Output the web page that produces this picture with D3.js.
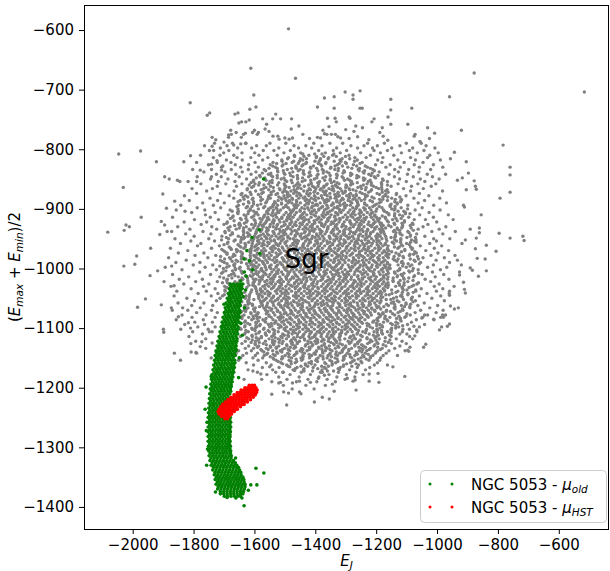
<!DOCTYPE html>
<html><head><meta charset="utf-8">
<script src="https://cdn.jsdelivr.net/npm/d3@7"></script>
<style>body{margin:0;background:#fff}svg{display:block}text{font-family:"DejaVu Sans",sans-serif}</style>
</head><body><svg id="c" width="610" height="571"></svg>
<script>
const xTicks=[-2000,-1800,-1600,-1400,-1200,-1000,-800,-600];
const yTicks=[-600,-700,-800,-900,-1000,-1100,-1200,-1300,-1400];
const seriesNames=["NGC 5053 - ","NGC 5053 - "];
const seriesSubs=["old","HST"];
const sgrLabel={text:"Sgr",x:-1500,y:-1000};
// Sgr: isolated outer stars [E_J, (Emax+Emin)/2]
const sgrHalo=[[-1488,-598],[-1612,-664],[-878,-672],[-1465,-681],[-1253,-702],[-1302,-704],[-516,-704],[-1602,-709],[-1276,-709],[-1338,-712],[-959,-712],[-1370,-714],[-1276,-716],[-1152,-716],[-1811,-722],[-1595,-729],[-1393,-729],[-1338,-731],[-1253,-731],[-1246,-731],[-1083,-731],[-1615,-733],[-1152,-734],[-1747,-739],[-1654,-739],[-1664,-741],[-1530,-741],[-1755,-743],[-1289,-746],[-1161,-746],[-1360,-748],[-1335,-748],[-1286,-748],[-1573,-749],[-1540,-749],[-1514,-749],[-1478,-749],[-1207,-749],[-1617,-751],[-1642,-754],[-1628,-754],[-1331,-754],[-1214,-754],[-1651,-756],[-1560,-758],[-1152,-758],[-1096,-758],[-1454,-761],[-1267,-761],[-1355,-762],[-1245,-764],[-1180,-764],[-1031,-764],[-1565,-766],[-1479,-766],[-1300,-767],[-1678,-768],[-1600,-768],[-1375,-768],[-920,-768],[-1552,-770],[-1273,-770],[-1660,-772],[-1606,-772],[-1587,-772],[-1188,-772],[-1630,-773],[-1008,-773],[-1370,-774],[-1676,-775],[-1636,-775],[-1591,-775],[-1441,-775],[-1362,-775],[-1347,-775],[-1334,-775],[-1072,-775],[-1685,-776],[-1539,-778],[-1523,-778],[-1177,-778],[-1075,-778],[-1326,-779],[-1261,-779],[-1739,-780],[-1685,-780],[-1643,-780],[-1393,-780],[-1500,-781],[-1475,-781],[-1383,-781],[-1317,-781],[-1419,-782],[-1289,-782],[-1025,-782],[-1519,-783],[-1486,-783],[-1727,-784],[-1224,-784],[-1162,-785],[-1056,-787],[-1700,-788],[-1629,-790],[-1645,-791],[-1668,-793],[-783,-793],[-1739,-795],[-1734,-802],[-1974,-803],[-943,-805],[-2046,-808],[-1810,-811],[-956,-816],[-1723,-819],[-1922,-821],[-1832,-821],[-904,-821],[-1741,-825],[-1704,-828],[-760,-830],[-1778,-835],[-1708,-835],[-897,-840],[-760,-843],[-1895,-846],[-1741,-846],[-917,-848],[-1880,-850],[-1853,-852],[-933,-852],[-878,-853],[-1845,-854],[-1790,-854],[-874,-862],[-2031,-864],[-871,-867],[-904,-868],[-760,-872],[-793,-882],[-1901,-875],[-1862,-887],[-913,-894],[-910,-897],[-1889,-899],[-1828,-904],[-855,-910],[-1972,-914],[-1906,-921],[-2022,-927],[-1895,-927],[-2011,-930],[-861,-932],[-891,-934],[-2028,-936],[-1872,-938],[-2082,-939],[-861,-940],[-796,-941],[-1911,-943],[-718,-946],[-871,-949],[-760,-949],[-907,-952],[-714,-953],[-838,-961],[-1941,-966],[-874,-967],[-806,-971],[-1987,-979],[-868,-983],[-842,-984],[-933,-986],[-1993,-993],[-920,-994],[-1872,-996],[-2029,-996],[-891,-999],[-884,-1003],[-1918,-1004],[-838,-1004],[-926,-1011],[-1943,-1012],[-864,-1013],[-1897,-1022],[-913,-1023],[-1864,-1029],[-910,-1035],[-959,-1038],[-907,-1041],[-959,-1045],[-1958,-1051],[-1906,-1061],[-956,-1063],[-1984,-1065],[-1836,-1066],[-930,-1066],[-943,-1068],[-1870,-1070],[-1041,-1078],[-982,-1078],[-972,-1078],[-1850,-1081],[-988,-1082],[-979,-1082],[-1050,-1083],[-1011,-1085],[-1817,-1091],[-959,-1093],[-1076,-1097],[-966,-1097],[-985,-1098],[-1810,-1100],[-1899,-1102],[-1112,-1102],[-1067,-1103],[-992,-1103],[-1748,-1106],[-1898,-1107],[-1099,-1110],[-1073,-1113],[-1080,-1118],[-1773,-1123],[-1739,-1125],[-1037,-1127],[-1778,-1131],[-1089,-1132],[-1044,-1132],[-1096,-1137],[-1093,-1139],[-1808,-1140],[-1792,-1141],[-1863,-1142],[-1843,-1154],[-1550,-1165],[-1484,-1165],[-1145,-1165],[-1468,-1171],[-1605,-1172],[-1530,-1174],[-1507,-1174],[-1377,-1174],[-1194,-1176],[-1579,-1177],[-1223,-1177],[-1370,-1179],[-1106,-1181],[-1390,-1184],[-1295,-1184],[-1634,-1186],[-1269,-1187],[-1452,-1189],[-1276,-1189],[-1223,-1189],[-1514,-1191],[-1416,-1191],[-1191,-1191],[-1520,-1192],[-1475,-1192],[-1344,-1194],[-1266,-1204],[-1338,-1206],[-1504,-1207],[-1452,-1207],[-1488,-1209],[-1543,-1211],[-1377,-1216],[-1354,-1219],[-1403,-1224],[-1494,-1229]];
// Sgr: main body, rows of [(Emax+Emin)/2, [E_J ...]]
const sgrBody=[
[-790,[-1731,-1672,-1628,-1549,-1497,-1405,-1352,-1310,-1228,-1173,-1101,-1052]],
[-794,[-1764,-1690,-1593,-1561,-1470,-1431,-1378,-1283,-1240,-1196,-1122,-1036]],
[-798,[-1712,-1655,-1609,-1520,-1455,-1412,-1330,-1261,-1212,-1149,-1080,-1007]],
[-802,[-1748,-1684,-1571,-1536,-1482,-1389,-1341,-1297,-1207,-1163,-1091,-1043]],
[-806,[-1701,-1641,-1599,-1503,-1448,-1367,-1318,-1251,-1186,-1117,-1065,-996]],
[-810,[-1777,-1713,-1668,-1585,-1525,-1469,-1421,-1343,-1289,-1219,-1142,-1024]],
[-814,[-1735,-1657,-1612,-1556,-1488,-1397,-1356,-1270,-1233,-1178,-1087,-1031]],
[-818,[-1692,-1640,-1573,-1510,-1441,-1384,-1319,-1262,-1195,-1129,-1071,-989]],
[-822,[-1790,-1722,-1677,-1598,-1539,-1476,-1429,-1365,-1301,-1246,-1181,-1108,-1046]],
[-826,[-1751,-1663,-1619,-1548,-1506,-1440,-1382,-1327,-1275,-1202,-1154,-1075,-1012]],
[-830,[-1708,-1645,-1587,-1531,-1463,-1416,-1349,-1293,-1229,-1168,-1121,-1058,-981]],
[-834,[-1803,-1741,-1676,-1620,-1568,-1492,-1450,-1377,-1336,-1259,-1211,-1139,-1093,-1021]],
[-838,[-1766,-1697,-1640,-1595,-1523,-1474,-1418,-1362,-1304,-1243,-1190,-1127,-1060]],
[-842,[-1725,-1661,-1611,-1554,-1500,-1437,-1391,-1330,-1280,-1224,-1158,-1097,-1032,-972]],
[-846,[-1788,-1709,-1650,-1581,-1540,-1473,-1422,-1366,-1312,-1257,-1206,-1140,-1078,-1015]],
[-850,[-1744,-1687,-1626,-1566,-1512,-1458,-1403,-1351,-1294,-1237,-1179,-1123,-1055,-993]],
[-854,[-1818,-1719,-1664,-1603,-1549,-1494,-1443,-1386,-1338,-1281,-1226,-1163,-1101,-1040]],
[-858,[-1776,-1694,-1641,-1598,-1553,-1502,-1458,-1413,-1389,-1361,-1322,-1277,-1230,-1182,-1128,-1063,-1004]],
[-862,[-1722,-1659,-1603,-1547,-1497,-1470,-1436,-1409,-1391,-1372,-1344,-1331,-1297,-1251,-1209,-1151,-1084,-1019]],
[-866,[-1805,-1738,-1623,-1570,-1518,-1459,-1447,-1420,-1398,-1381,-1355,-1341,-1318,-1289,-1248,-1192,-1110,-1045]],
[-870,[-1757,-1667,-1596,-1537,-1499,-1480,-1466,-1438,-1426,-1401,-1375,-1364,-1339,-1313,-1301,-1266,-1218,-1169,-1087,-982]],
[-874,[-1790,-1712,-1641,-1576,-1524,-1490,-1471,-1453,-1428,-1417,-1392,-1367,-1352,-1326,-1309,-1284,-1246,-1197,-1133,-1058]],
[-878,[-1830,-1683,-1629,-1552,-1503,-1483,-1461,-1447,-1421,-1403,-1380,-1361,-1333,-1321,-1297,-1276,-1265,-1229,-1172,-1102,-1027]],
[-882,[-1746,-1668,-1605,-1548,-1512,-1500,-1476,-1454,-1439,-1413,-1390,-1377,-1350,-1335,-1311,-1289,-1271,-1256,-1207,-1149,-1076,-991]],
[-886,[-1814,-1721,-1647,-1579,-1522,-1496,-1485,-1462,-1433,-1420,-1399,-1371,-1356,-1329,-1316,-1292,-1265,-1249,-1220,-1163,-1118,-1041]],
[-890,[-1770,-1699,-1618,-1563,-1531,-1511,-1490,-1477,-1449,-1428,-1409,-1384,-1369,-1342,-1321,-1304,-1280,-1261,-1238,-1190,-1131,-1062,-969]],
[-894,[-1842,-1735,-1652,-1590,-1539,-1524,-1497,-1470,-1457,-1434,-1401,-1393,-1362,-1347,-1318,-1297,-1285,-1259,-1231,-1205,-1154,-1096,-1011]],
[-898,[-1788,-1711,-1627,-1570,-1547,-1529,-1505,-1489,-1462,-1444,-1425,-1412,-1381,-1358,-1338,-1329,-1302,-1277,-1264,-1241,-1222,-1181,-1118,-1049]],
[-902,[-1857,-1763,-1680,-1612,-1553,-1538,-1514,-1483,-1472,-1450,-1421,-1403,-1389,-1370,-1344,-1319,-1308,-1286,-1254,-1237,-1217,-1176,-1141,-1072,-990]],
[-906,[-1806,-1729,-1655,-1593,-1559,-1540,-1520,-1496,-1479,-1462,-1436,-1415,-1397,-1373,-1360,-1333,-1315,-1292,-1275,-1249,-1229,-1212,-1165,-1104,-1026]],
[-910,[-1761,-1686,-1634,-1588,-1566,-1545,-1531,-1503,-1488,-1468,-1444,-1428,-1405,-1378,-1366,-1348,-1326,-1301,-1283,-1269,-1241,-1220,-1204,-1158,-1123,-1057,-963]],
[-914,[-1869,-1745,-1672,-1609,-1570,-1556,-1527,-1510,-1491,-1473,-1450,-1437,-1414,-1388,-1372,-1353,-1336,-1309,-1294,-1277,-1253,-1232,-1216,-1199,-1170,-1093,-1012]],
[-918,[-1797,-1718,-1643,-1601,-1575,-1552,-1537,-1519,-1494,-1480,-1457,-1431,-1422,-1395,-1380,-1359,-1331,-1318,-1297,-1270,-1258,-1236,-1209,-1195,-1146,-1075,-1038,-947]],
[-922,[-1831,-1757,-1689,-1626,-1579,-1562,-1541,-1516,-1503,-1477,-1464,-1440,-1420,-1402,-1387,-1364,-1346,-1322,-1305,-1287,-1264,-1241,-1224,-1203,-1190,-1160,-1107,-1001]],
[-926,[-1775,-1700,-1651,-1609,-1583,-1569,-1548,-1524,-1499,-1483,-1468,-1443,-1427,-1410,-1379,-1368,-1349,-1329,-1310,-1282,-1270,-1249,-1227,-1211,-1186,-1139,-1079,-1030]],
[-930,[-1852,-1740,-1680,-1627,-1588,-1571,-1550,-1538,-1511,-1490,-1474,-1451,-1434,-1417,-1393,-1372,-1358,-1335,-1313,-1299,-1275,-1255,-1240,-1215,-1198,-1182,-1151,-1114,-1046,-971]],
[-934,[-1812,-1724,-1660,-1617,-1591,-1576,-1556,-1530,-1518,-1495,-1481,-1455,-1440,-1424,-1401,-1386,-1360,-1341,-1327,-1302,-1290,-1261,-1247,-1228,-1204,-1189,-1179,-1130,-1062,-993]],
[-938,[-1887,-1769,-1697,-1636,-1594,-1580,-1561,-1539,-1515,-1501,-1476,-1462,-1433,-1418,-1405,-1378,-1363,-1345,-1320,-1306,-1284,-1266,-1243,-1231,-1210,-1185,-1176,-1143,-1096,-1017,-940]],
[-942,[-1826,-1743,-1672,-1619,-1597,-1571,-1557,-1535,-1520,-1497,-1480,-1457,-1446,-1420,-1396,-1382,-1368,-1339,-1326,-1309,-1288,-1270,-1252,-1233,-1219,-1196,-1173,-1121,-1067,-981]],
[-946,[-1798,-1707,-1653,-1621,-1600,-1586,-1566,-1543,-1529,-1511,-1490,-1466,-1449,-1431,-1409,-1390,-1376,-1354,-1333,-1316,-1297,-1278,-1257,-1244,-1222,-1201,-1187,-1169,-1137,-1088,-1040]],
[-950,[-1861,-1750,-1685,-1636,-1602,-1577,-1560,-1549,-1522,-1505,-1483,-1472,-1444,-1427,-1412,-1385,-1371,-1351,-1330,-1317,-1292,-1273,-1260,-1236,-1215,-1198,-1181,-1167,-1119,-1011,-958]],
[-954,[-1809,-1731,-1667,-1605,-1590,-1569,-1545,-1534,-1512,-1493,-1468,-1455,-1432,-1418,-1399,-1374,-1362,-1337,-1322,-1303,-1281,-1265,-1248,-1226,-1208,-1190,-1165,-1133,-1074,-1002]],
[-958,[-1843,-1776,-1689,-1631,-1607,-1585,-1573,-1552,-1529,-1516,-1499,-1474,-1459,-1438,-1421,-1393,-1381,-1360,-1343,-1318,-1306,-1287,-1261,-1244,-1231,-1213,-1185,-1170,-1142,-1100,-1024,-918]],
[-962,[-1787,-1715,-1650,-1609,-1596,-1576,-1558,-1537,-1521,-1494,-1481,-1463,-1441,-1425,-1404,-1386,-1369,-1350,-1327,-1311,-1293,-1272,-1253,-1238,-1217,-1193,-1178,-1161,-1113,-1055,-985]],
[-966,[-1876,-1741,-1678,-1635,-1610,-1588,-1569,-1547,-1532,-1507,-1489,-1472,-1450,-1435,-1413,-1391,-1377,-1355,-1336,-1320,-1298,-1282,-1258,-1241,-1225,-1204,-1186,-1163,-1129,-1081,-1009]],
[-970,[-1819,-1702,-1655,-1611,-1598,-1577,-1563,-1540,-1518,-1502,-1479,-1462,-1443,-1427,-1400,-1386,-1362,-1348,-1326,-1303,-1289,-1268,-1247,-1229,-1212,-1191,-1174,-1159,-1106,-1037,-962]],
[-974,[-1850,-1766,-1690,-1640,-1612,-1590,-1571,-1551,-1529,-1513,-1490,-1468,-1455,-1433,-1411,-1396,-1373,-1355,-1334,-1314,-1296,-1277,-1255,-1235,-1219,-1198,-1180,-1165,-1135,-1068,-997]],
[-978,[-1795,-1727,-1664,-1614,-1602,-1580,-1559,-1545,-1524,-1497,-1484,-1461,-1440,-1422,-1406,-1381,-1367,-1345,-1321,-1309,-1286,-1264,-1250,-1227,-1207,-1189,-1168,-1124,-1091,-1020,-941]],
[-982,[-1882,-1753,-1682,-1637,-1613,-1593,-1568,-1553,-1534,-1509,-1491,-1475,-1452,-1431,-1416,-1390,-1374,-1358,-1332,-1315,-1299,-1275,-1257,-1239,-1218,-1195,-1177,-1160,-1110,-1046,-976]],
[-986,[-1824,-1712,-1660,-1615,-1601,-1583,-1562,-1540,-1527,-1503,-1487,-1464,-1446,-1424,-1409,-1383,-1370,-1349,-1324,-1306,-1290,-1268,-1245,-1232,-1210,-1192,-1171,-1139,-1075,-1003]],
[-990,[-1858,-1779,-1699,-1643,-1616,-1594,-1572,-1557,-1533,-1516,-1494,-1478,-1456,-1437,-1419,-1397,-1378,-1359,-1340,-1319,-1302,-1279,-1261,-1241,-1223,-1201,-1183,-1163,-1117,-1054,-959]],
[-994,[-1801,-1737,-1668,-1611,-1603,-1585,-1566,-1545,-1524,-1508,-1485,-1470,-1447,-1428,-1410,-1389,-1368,-1352,-1330,-1310,-1292,-1270,-1252,-1234,-1213,-1188,-1174,-1155,-1128,-1083,-1012]],
[-998,[-1893,-1762,-1691,-1647,-1605,-1591,-1564,-1550,-1529,-1503,-1492,-1467,-1449,-1434,-1405,-1393,-1371,-1347,-1336,-1314,-1288,-1277,-1255,-1230,-1216,-1196,-1170,-1158,-1101,-1031,-968]],
[-1002,[-1838,-1725,-1662,-1613,-1597,-1578,-1561,-1536,-1521,-1499,-1478,-1461,-1440,-1417,-1400,-1384,-1361,-1340,-1325,-1302,-1283,-1265,-1242,-1224,-1205,-1183,-1164,-1123,-1062,-989]],
[-1006,[-1780,-1703,-1641,-1609,-1585,-1570,-1543,-1527,-1511,-1484,-1470,-1452,-1426,-1409,-1390,-1372,-1350,-1329,-1311,-1294,-1270,-1252,-1234,-1211,-1191,-1177,-1140,-1090,-1015,-926]],
[-1010,[-1869,-1744,-1676,-1603,-1590,-1562,-1549,-1531,-1506,-1489,-1466,-1445,-1431,-1408,-1386,-1368,-1344,-1333,-1306,-1290,-1272,-1246,-1228,-1208,-1187,-1167,-1118,-1049,-978]],
[-1014,[-1816,-1714,-1653,-1608,-1584,-1573,-1554,-1533,-1517,-1497,-1475,-1458,-1437,-1419,-1397,-1379,-1358,-1339,-1318,-1297,-1281,-1261,-1238,-1217,-1199,-1176,-1161,-1131,-1077,-1006]],
[-1018,[-1847,-1771,-1689,-1638,-1603,-1595,-1575,-1547,-1538,-1512,-1494,-1481,-1453,-1440,-1414,-1401,-1377,-1353,-1341,-1322,-1300,-1283,-1257,-1245,-1221,-1203,-1183,-1163,-1108,-1039,-961]],
[-1022,[-1793,-1722,-1664,-1600,-1582,-1566,-1540,-1523,-1505,-1487,-1462,-1446,-1430,-1406,-1392,-1366,-1348,-1331,-1308,-1293,-1268,-1252,-1233,-1211,-1192,-1175,-1144,-1096,-1021]],
[-1026,[-1832,-1750,-1679,-1604,-1585,-1559,-1544,-1531,-1511,-1490,-1469,-1455,-1434,-1412,-1395,-1374,-1357,-1336,-1317,-1299,-1276,-1260,-1240,-1219,-1203,-1180,-1168,-1124,-1066,-993]],
[-1030,[-1874,-1767,-1698,-1598,-1572,-1553,-1536,-1518,-1497,-1476,-1460,-1439,-1421,-1403,-1380,-1362,-1345,-1326,-1303,-1285,-1264,-1248,-1226,-1207,-1189,-1170,-1136,-1083,-1009,-944]],
[-1034,[-1808,-1729,-1683,-1595,-1580,-1565,-1544,-1522,-1507,-1486,-1466,-1449,-1427,-1409,-1390,-1371,-1351,-1330,-1314,-1292,-1272,-1255,-1233,-1213,-1196,-1177,-1113,-1052,-981]],
[-1038,[-1855,-1758,-1696,-1593,-1574,-1557,-1531,-1514,-1495,-1478,-1455,-1436,-1416,-1399,-1377,-1361,-1339,-1320,-1302,-1281,-1262,-1241,-1222,-1201,-1186,-1173,-1129,-1070,-1002]],
[-1042,[-1785,-1720,-1643,-1591,-1566,-1548,-1526,-1509,-1489,-1464,-1446,-1428,-1407,-1386,-1369,-1347,-1328,-1308,-1290,-1268,-1250,-1230,-1210,-1192,-1182,-1148,-1095,-1033,-960]],
[-1046,[-1864,-1742,-1705,-1627,-1587,-1575,-1552,-1537,-1515,-1498,-1472,-1455,-1438,-1414,-1395,-1378,-1357,-1337,-1316,-1297,-1278,-1258,-1236,-1218,-1199,-1184,-1120,-1058,-988]],
[-1050,[-1822,-1713,-1630,-1586,-1561,-1543,-1522,-1504,-1486,-1462,-1446,-1420,-1403,-1383,-1363,-1346,-1322,-1303,-1286,-1265,-1244,-1226,-1206,-1185,-1143,-1084,-1017]],
[-1054,[-1797,-1725,-1621,-1581,-1570,-1548,-1532,-1511,-1493,-1472,-1453,-1434,-1411,-1393,-1374,-1353,-1334,-1313,-1294,-1275,-1253,-1236,-1214,-1197,-1184,-1131,-1071,-976]],
[-1058,[-1851,-1766,-1616,-1578,-1557,-1539,-1519,-1497,-1480,-1460,-1441,-1421,-1400,-1382,-1362,-1341,-1325,-1303,-1284,-1262,-1245,-1222,-1205,-1188,-1150,-1102,-1042]],
[-1062,[-1806,-1737,-1631,-1606,-1574,-1559,-1537,-1514,-1501,-1476,-1457,-1443,-1418,-1402,-1379,-1359,-1343,-1320,-1300,-1283,-1260,-1241,-1224,-1200,-1160,-1117,-1063,-998]],
[-1066,[-1873,-1778,-1621,-1597,-1569,-1551,-1530,-1509,-1487,-1470,-1448,-1427,-1410,-1388,-1368,-1351,-1329,-1312,-1290,-1271,-1253,-1232,-1215,-1197,-1141,-1089,-1024]],
[-1070,[-1819,-1741,-1633,-1600,-1563,-1545,-1524,-1503,-1481,-1465,-1440,-1422,-1404,-1384,-1363,-1344,-1323,-1305,-1284,-1266,-1246,-1226,-1205,-1166,-1112,-1054,-980]],
[-1074,[-1790,-1722,-1612,-1588,-1559,-1538,-1516,-1497,-1477,-1457,-1437,-1418,-1399,-1379,-1358,-1338,-1318,-1297,-1280,-1258,-1240,-1219,-1178,-1128,-1072,-1003]],
[-1078,[-1838,-1759,-1634,-1595,-1552,-1533,-1512,-1491,-1471,-1449,-1431,-1410,-1392,-1372,-1350,-1331,-1313,-1291,-1272,-1253,-1232,-1216,-1185,-1139,-1088,-1031]],
[-1082,[-1805,-1729,-1619,-1583,-1545,-1522,-1506,-1483,-1464,-1443,-1424,-1404,-1385,-1364,-1344,-1325,-1305,-1286,-1265,-1247,-1226,-1191,-1155,-1106,-1047]],
[-1086,[-1857,-1768,-1609,-1572,-1539,-1517,-1495,-1477,-1455,-1436,-1416,-1397,-1375,-1356,-1337,-1316,-1298,-1276,-1258,-1237,-1198,-1165,-1121,-1068,-1010]],
[-1090,[-1796,-1738,-1632,-1595,-1563,-1530,-1510,-1489,-1469,-1448,-1430,-1410,-1389,-1371,-1350,-1330,-1309,-1289,-1270,-1248,-1211,-1176,-1135,-1084]],
[-1094,[-1829,-1764,-1615,-1581,-1554,-1522,-1502,-1481,-1461,-1439,-1419,-1401,-1380,-1360,-1342,-1321,-1300,-1281,-1262,-1224,-1188,-1147,-1097,-1041]],
[-1098,[-1786,-1729,-1632,-1593,-1550,-1512,-1494,-1472,-1452,-1433,-1412,-1391,-1373,-1352,-1333,-1312,-1293,-1272,-1254,-1220,-1179,-1126,-1058]],
[-1102,[-1842,-1752,-1644,-1607,-1570,-1539,-1502,-1481,-1463,-1441,-1423,-1403,-1382,-1364,-1343,-1325,-1303,-1285,-1266,-1232,-1198,-1151,-1091]],
[-1106,[-1803,-1739,-1658,-1620,-1583,-1551,-1522,-1490,-1473,-1452,-1431,-1413,-1393,-1372,-1354,-1333,-1313,-1294,-1279,-1244,-1207,-1163,-1114,-1066]],
[-1110,[-1771,-1632,-1595,-1564,-1534,-1507,-1476,-1458,-1437,-1418,-1398,-1379,-1359,-1339,-1320,-1300,-1263,-1223,-1179,-1122]],
[-1114,[-1815,-1646,-1607,-1577,-1543,-1513,-1488,-1459,-1441,-1421,-1402,-1381,-1362,-1343,-1319,-1284,-1246,-1199,-1151,-1090]],
[-1118,[-1760,-1656,-1619,-1585,-1552,-1522,-1495,-1468,-1436,-1417,-1396,-1375,-1356,-1338,-1303,-1268,-1230,-1190,-1134]],
[-1122,[-1793,-1630,-1596,-1564,-1533,-1506,-1481,-1452,-1424,-1401,-1379,-1357,-1331,-1292,-1256,-1214,-1171,-1115]],
[-1126,[-1809,-1692,-1641,-1598,-1571,-1536,-1509,-1478,-1459,-1424,-1397,-1370,-1341,-1319,-1288,-1261,-1228,-1194,-1150,-1101]],
[-1130,[-1718,-1663,-1619,-1586,-1548,-1520,-1493,-1466,-1433,-1411,-1379,-1354,-1326,-1300,-1270,-1242,-1207,-1168,-1122]],
[-1134,[-1760,-1675,-1630,-1603,-1561,-1528,-1501,-1470,-1445,-1418,-1388,-1362,-1334,-1306,-1281,-1249,-1219,-1180,-1139]],
[-1138,[-1684,-1652,-1610,-1575,-1540,-1515,-1484,-1450,-1427,-1396,-1367,-1345,-1312,-1290,-1255,-1231,-1196,-1158,-1105]],
[-1142,[-1790,-1660,-1626,-1590,-1557,-1524,-1491,-1461,-1436,-1404,-1375,-1351,-1320,-1295,-1264,-1236,-1203,-1167]],
[-1146,[-1671,-1638,-1597,-1568,-1532,-1499,-1470,-1441,-1412,-1384,-1358,-1327,-1301,-1270,-1244,-1211,-1177,-1130]],
[-1150,[-1742,-1645,-1605,-1573,-1539,-1507,-1478,-1447,-1419,-1391,-1361,-1335,-1306,-1280,-1250,-1219,-1185]],
[-1154,[-1652,-1588,-1529,-1486,-1445,-1398,-1352,-1309,-1272,-1224,-1188]],
[-1158,[-1627,-1561,-1513,-1466,-1421,-1369,-1333,-1284,-1247,-1196]],
[-1162,[-1603,-1545,-1494,-1432,-1401,-1345,-1307,-1258,-1206,-1163]],
[-1166,[-1574,-1519,-1460,-1407,-1370,-1318,-1262,-1221]],
[-1170,[-1621,-1540,-1473,-1439,-1378,-1321,-1287,-1235]],
[-1174,[-1590,-1505,-1446,-1383,-1324,-1266]],
[-1178,[-1559,-1483,-1416,-1355,-1298,-1243]],
[-1182,[-1520,-1453,-1388,-1329,-1270]],
[-1186,[-1576,-1493,-1424,-1361,-1302]],
[-1190,[-1543,-1462,-1395,-1334]],
[-1196,[-1505,-1431,-1367]],
[-1202,[-1476,-1404]],
[-1210,[-1447]]
];
// Sgr: additional rows filling the dense centre and its fading edge
const sgrFringe=[
[-808,[-1441,-1402,-1378,-1339]],
[-812,[-1468,-1437,-1396,-1372,-1331,-1301]],
[-816,[-1491,-1449,-1429,-1383,-1358,-1312,-1287]],
[-820,[-1509,-1471,-1452,-1401,-1387,-1338,-1316,-1271]],
[-824,[-1527,-1496,-1456,-1431,-1390,-1366,-1321,-1298,-1253]],
[-828,[-1540,-1509,-1464,-1444,-1406,-1379,-1335,-1311,-1264,-1236]],
[-832,[-1552,-1525,-1478,-1462,-1415,-1396,-1350,-1324,-1280,-1255,-1219]],
[-836,[-1563,-1524,-1505,-1456,-1439,-1392,-1373,-1325,-1306,-1256,-1238,-1206]],
[-840,[-1574,-1546,-1503,-1484,-1440,-1420,-1374,-1355,-1309,-1284,-1240,-1213]],
[-844,[-1583,-1545,-1525,-1481,-1459,-1415,-1394,-1351,-1328,-1284,-1263,-1217,-1194]],
[-848,[-1594,-1566,-1525,-1503,-1458,-1442,-1395,-1375,-1330,-1308,-1264,-1242,-1202]],
[-852,[-1603,-1562,-1542,-1499,-1479,-1434,-1415,-1369,-1351,-1304,-1287,-1241,-1220,-1177]],
[-856,[-1611,-1584,-1542,-1520,-1476,-1457,-1414,-1392,-1347,-1328,-1282,-1262,-1216,-1183]],
[-860,[-1617,-1586,-1569,-1524,-1501,-1463,-1451,-1422,-1364,-1334,-1299,-1284,-1242,-1216,-1182,-1163]],
[-864,[-1609,-1562,-1538,-1499,-1486,-1456,-1403,-1372,-1326,-1300,-1260,-1233,-1200,-1182]],
[-868,[-1624,-1578,-1553,-1516,-1502,-1470,-1416,-1384,-1346,-1287,-1276,-1235,-1215,-1181,-1164]],
[-872,[-1614,-1571,-1545,-1507,-1492,-1461,-1404,-1371,-1325,-1303,-1253,-1225,-1180,-1161]],
[-876,[-1644,-1611,-1587,-1545,-1529,-1492,-1451,-1424,-1369,-1336,-1288,-1266,-1237,-1189,-1169,-1134]],
[-880,[-1637,-1622,-1580,-1554,-1520,-1491,-1434,-1400,-1351,-1328,-1288,-1235,-1214,-1178,-1162,-1122]],
[-884,[-1634,-1607,-1574,-1556,-1510,-1475,-1428,-1404,-1362,-1308,-1276,-1238,-1189,-1178,-1137,-1117]],
[-888,[-1654,-1620,-1603,-1560,-1534,-1486,-1461,-1420,-1363,-1330,-1284,-1262,-1212,-1184,-1139,-1120]],
[-892,[-1636,-1603,-1579,-1537,-1511,-1464,-1423,-1396,-1341,-1308,-1260,-1238,-1199,-1151,-1131]],
[-896,[-1658,-1623,-1608,-1566,-1540,-1496,-1467,-1410,-1376,-1327,-1304,-1264,-1211,-1190,-1154,-1138]],
[-900,[-1654,-1614,-1587,-1554,-1526,-1470,-1435,-1388,-1364,-1322,-1268,-1236,-1198,-1149,-1138,-1097]],
[-904,[-1673,-1653,-1619,-1602,-1559,-1523,-1475,-1450,-1409,-1352,-1319,-1273,-1251,-1201,-1173,-1128,-1109]],
[-908,[-1654,-1621,-1597,-1555,-1529,-1482,-1441,-1414,-1359,-1326,-1278,-1256,-1217,-1159,-1139,-1104,-1089]],
[-912,[-1670,-1628,-1602,-1568,-1539,-1482,-1448,-1399,-1376,-1336,-1283,-1252,-1206,-1180,-1140,-1113]],
[-916,[-1679,-1646,-1628,-1582,-1557,-1510,-1486,-1444,-1390,-1358,-1320,-1261,-1240,-1189,-1169,-1135,-1118]],
[-920,[-1667,-1624,-1598,-1560,-1535,-1494,-1437,-1404,-1358,-1336,-1286,-1248,-1193,-1164,-1131,-1107]],
[-924,[-1691,-1649,-1633,-1596,-1565,-1538,-1483,-1450,-1402,-1380,-1341,-1283,-1253,-1208,-1183,-1141,-1115,-1081]],
[-928,[-1665,-1646,-1599,-1575,-1526,-1503,-1463,-1410,-1379,-1333,-1307,-1257,-1220,-1177,-1159,-1113,-1088]],
[-932,[-1687,-1650,-1636,-1604,-1560,-1528,-1490,-1431,-1410,-1359,-1329,-1285,-1258,-1205,-1169,-1131,-1116,-1085]],
[-936,[-1683,-1636,-1613,-1577,-1555,-1505,-1467,-1412,-1383,-1340,-1306,-1254,-1228,-1181,-1140,-1123,-1078]],
[-940,[-1696,-1673,-1635,-1623,-1594,-1536,-1506,-1461,-1436,-1384,-1348,-1304,-1275,-1218,-1184,-1135,-1122,-1092]],
[-944,[-1679,-1636,-1615,-1579,-1553,-1503,-1466,-1423,-1395,-1339,-1304,-1257,-1233,-1191,-1137,-1115,-1087]],
[-948,[-1692,-1643,-1632,-1591,-1561,-1517,-1490,-1437,-1401,-1353,-1328,-1287,-1230,-1197,-1151,-1139,-1099,-1071]],
[-952,[-1708,-1663,-1644,-1611,-1587,-1535,-1509,-1462,-1421,-1394,-1339,-1306,-1258,-1236,-1197,-1139,-1119,-1084,-1069]],
[-956,[-1687,-1645,-1619,-1585,-1556,-1499,-1465,-1416,-1393,-1353,-1300,-1269,-1223,-1197,-1147,-1120,-1087,-1069]],
[-960,[-1700,-1654,-1629,-1592,-1568,-1526,-1472,-1440,-1402,-1343,-1322,-1271,-1241,-1197,-1170,-1117,-1091]],
[-964,[-1683,-1645,-1630,-1599,-1542,-1509,-1463,-1441,-1391,-1353,-1298,-1269,-1226,-1192,-1140,-1124,-1087]],
[-968,[-1707,-1676,-1659,-1614,-1591,-1543,-1521,-1482,-1424,-1394,-1349,-1324,-1272,-1236,-1192,-1163,-1106,-1082]],
[-972,[-1697,-1658,-1645,-1615,-1572,-1541,-1495,-1469,-1419,-1382,-1339,-1311,-1255,-1220,-1173,-1149,-1117,-1073]],
[-976,[-1690,-1668,-1640,-1591,-1570,-1519,-1489,-1445,-1418,-1365,-1329,-1281,-1256,-1215,-1158,-1125,-1089,-1077]],
[-980,[-1711,-1671,-1643,-1598,-1569,-1526,-1492,-1440,-1414,-1367,-1326,-1299,-1244,-1211,-1163,-1141,-1112,-1064]],
[-984,[-1698,-1678,-1643,-1628,-1586,-1550,-1506,-1477,-1420,-1386,-1337,-1314,-1274,-1221,-1190,-1144,-1128,-1088,-1061]],
[-988,[-1706,-1673,-1655,-1609,-1574,-1527,-1503,-1461,-1407,-1375,-1337,-1278,-1257,-1206,-1176,-1132,-1115,-1072]],
[-992,[-1690,-1664,-1626,-1611,-1570,-1513,-1480,-1434,-1412,-1362,-1324,-1269,-1240,-1197,-1163,-1111,-1095,-1058]],
[-996,[-1714,-1683,-1666,-1621,-1598,-1550,-1528,-1489,-1431,-1401,-1356,-1331,-1279,-1243,-1199,-1170,-1113,-1089]],
[-1000,[-1702,-1663,-1650,-1620,-1577,-1546,-1500,-1474,-1424,-1387,-1344,-1316,-1260,-1225,-1178,-1154,-1122,-1078]],
[-1004,[-1694,-1672,-1644,-1595,-1574,-1523,-1493,-1449,-1422,-1369,-1333,-1285,-1260,-1219,-1162,-1129,-1093,-1081]],
[-1008,[-1708,-1668,-1640,-1595,-1566,-1523,-1489,-1437,-1411,-1364,-1323,-1296,-1241,-1208,-1160,-1138,-1109,-1061]],
[-1012,[-1684,-1664,-1629,-1614,-1572,-1536,-1492,-1463,-1406,-1372,-1323,-1300,-1260,-1207,-1176,-1130,-1114,-1074]],
[-1016,[-1701,-1674,-1641,-1623,-1577,-1542,-1495,-1471,-1429,-1375,-1343,-1305,-1246,-1225,-1174,-1144,-1110,-1093]],
[-1020,[-1691,-1648,-1622,-1584,-1559,-1518,-1461,-1428,-1382,-1360,-1310,-1272,-1217,-1188,-1145,-1121,-1079]],
[-1024,[-1705,-1689,-1652,-1621,-1604,-1549,-1516,-1468,-1446,-1407,-1349,-1319,-1274,-1249,-1197,-1161,-1127,-1108,-1061]],
[-1028,[-1681,-1657,-1618,-1605,-1565,-1512,-1481,-1435,-1409,-1359,-1322,-1279,-1251,-1195,-1160,-1123,-1109,-1077]],
[-1032,[-1691,-1647,-1625,-1597,-1538,-1517,-1466,-1436,-1392,-1365,-1312,-1276,-1228,-1203,-1162,-1115,-1092]],
[-1036,[-1697,-1661,-1649,-1609,-1581,-1526,-1497,-1454,-1420,-1368,-1342,-1295,-1254,-1227,-1172,-1149,-1111,-1099,-1070]],
[-1040,[-1680,-1632,-1612,-1577,-1552,-1500,-1464,-1420,-1391,-1334,-1300,-1251,-1228,-1188,-1135,-1114,-1078]],
[-1044,[-1699,-1683,-1643,-1616,-1583,-1555,-1499,-1464,-1417,-1393,-1351,-1297,-1265,-1227,-1168,-1157,-1116,-1096]],
[-1048,[-1668,-1634,-1617,-1574,-1538,-1490,-1465,-1424,-1367,-1334,-1288,-1266,-1216,-1178,-1133,-1114,-1081]],
[-1052,[-1684,-1660,-1618,-1602,-1565,-1524,-1497,-1442,-1409,-1361,-1339,-1300,-1242,-1212,-1167,-1152,-1110,-1084]],
[-1056,[-1675,-1641,-1622,-1575,-1541,-1492,-1469,-1429,-1376,-1345,-1299,-1273,-1223,-1186,-1143,-1125,-1079]],
[-1060,[-1683,-1658,-1621,-1607,-1575,-1521,-1489,-1451,-1392,-1371,-1320,-1290,-1246,-1219,-1166,-1140,-1102,-1087]],
[-1064,[-1661,-1630,-1583,-1560,-1514,-1492,-1442,-1404,-1349,-1320,-1277,-1243,-1191,-1175,-1138,-1107,-1090]],
[-1068,[-1671,-1626,-1603,-1565,-1543,-1504,-1446,-1416,-1371,-1346,-1294,-1258,-1214,-1185,-1138,-1114]],
[-1072,[-1681,-1642,-1629,-1599,-1556,-1525,-1479,-1453,-1403,-1366,-1323,-1295,-1239,-1204,-1167,-1153,-1121]],
[-1076,[-1655,-1611,-1589,-1561,-1502,-1481,-1430,-1400,-1356,-1329,-1276,-1240,-1192,-1177,-1146,-1099]],
[-1080,[-1663,-1640,-1604,-1592,-1552,-1514,-1459,-1430,-1387,-1353,-1301,-1275,-1228,-1187,-1170,-1125,-1102]],
[-1084,[-1641,-1603,-1591,-1562,-1514,-1484,-1439,-1414,-1362,-1326,-1282,-1253,-1196,-1172,-1133,-1120]],
[-1088,[-1660,-1630,-1587,-1566,-1530,-1504,-1454,-1417,-1374,-1346,-1290,-1255,-1208,-1194,-1162,-1118]],
[-1092,[-1644,-1622,-1594,-1545,-1534,-1483,-1453,-1409,-1382,-1329,-1293,-1245,-1230,-1199,-1152,-1129]],
[-1096,[-1631,-1595,-1583,-1543,-1515,-1460,-1431,-1388,-1354,-1302,-1276,-1229,-1198,-1181,-1136,-1113]],
[-1100,[-1647,-1609,-1597,-1568,-1520,-1500,-1455,-1430,-1378,-1342,-1298,-1269,-1212,-1188,-1149,-1136]],
[-1104,[-1628,-1598,-1555,-1534,-1498,-1472,-1422,-1385,-1342,-1314,-1258,-1233,-1196,-1182,-1150]],
[-1108,[-1630,-1586,-1564,-1536,-1487,-1466,-1415,-1385,-1341,-1314,-1261,-1235,-1197,-1182,-1151]],
[-1112,[-1608,-1561,-1538,-1502,-1490,-1440,-1402,-1347,-1318,-1275,-1251,-1209,-1193,-1156]],
[-1116,[-1625,-1594,-1577,-1532,-1509,-1471,-1449,-1410,-1352,-1322,-1287,-1272,-1230,-1204,-1170]],
[-1120,[-1607,-1588,-1541,-1517,-1478,-1465,-1435,-1392,-1371,-1335,-1319,-1279,-1252,-1219,-1201,-1155]],
[-1124,[-1611,-1584,-1541,-1519,-1476,-1459,-1414,-1392,-1349,-1330,-1283,-1261,-1222,-1197,-1160]],
[-1128,[-1597,-1561,-1537,-1494,-1474,-1431,-1408,-1371,-1338,-1311,-1270,-1248,-1204,-1177]],
[-1132,[-1590,-1547,-1528,-1482,-1465,-1420,-1389,-1366,-1323,-1301,-1257,-1235,-1195]],
[-1136,[-1579,-1555,-1508,-1489,-1441,-1419,-1378,-1352,-1309,-1290,-1244,-1223,-1186]],
[-1140,[-1569,-1527,-1510,-1461,-1444,-1398,-1376,-1331,-1312,-1266,-1247,-1201]],
[-1144,[-1560,-1538,-1486,-1466,-1420,-1400,-1353,-1333,-1287,-1262,-1226]],
[-1148,[-1548,-1509,-1487,-1440,-1418,-1375,-1347,-1307,-1285,-1240,-1219]],
[-1152,[-1537,-1511,-1463,-1441,-1396,-1374,-1328,-1306,-1259,-1233]],
[-1156,[-1522,-1480,-1461,-1413,-1393,-1346,-1326,-1278,-1250]],
[-1160,[-1507,-1479,-1433,-1413,-1365,-1344,-1297,-1266]],
[-1164,[-1489,-1447,-1425,-1379,-1357,-1308,-1280]],
[-1168,[-1466,-1437,-1392,-1365,-1325]],
[-1172,[-1437,-1409,-1360,-1340]]
];
// NGC 5053 mu_old: dense strip rows [(Emax+Emin)/2, [E_J ...]] and scattered stars
const oldRows=[
[-1026,[-1680,-1669,-1658,-1647,-1638]],[-1030,[-1676,-1665,-1654,-1643]],[-1034,[-1682,-1671,-1660,-1649,-1640]],[-1038,[-1679,-1668,-1657,-1646]],
[-1042,[-1686,-1675,-1664,-1653,-1642]],[-1046,[-1682,-1671,-1660,-1649]],[-1050,[-1689,-1678,-1667,-1656,-1645]],[-1054,[-1686,-1675,-1664,-1653,-1645]],
[-1058,[-1693,-1682,-1671,-1660,-1649]],[-1062,[-1689,-1678,-1667,-1656,-1646]],[-1066,[-1696,-1685,-1674,-1663,-1652]],[-1070,[-1693,-1682,-1671,-1660,-1649]],
[-1074,[-1699,-1688,-1677,-1666,-1655,-1647]],[-1078,[-1696,-1685,-1674,-1663,-1652]],[-1082,[-1703,-1692,-1681,-1670,-1659,-1649]],[-1086,[-1699,-1688,-1677,-1666,-1655]],
[-1090,[-1706,-1695,-1684,-1673,-1662,-1651]],[-1094,[-1703,-1692,-1681,-1670,-1659]],[-1098,[-1709,-1698,-1687,-1676,-1665,-1654]],[-1102,[-1706,-1695,-1684,-1673,-1662,-1654]],
[-1106,[-1713,-1702,-1691,-1680,-1669,-1658]],[-1110,[-1710,-1699,-1688,-1677,-1666,-1655]],[-1114,[-1716,-1705,-1694,-1683,-1672,-1661]],[-1118,[-1713,-1702,-1691,-1680,-1669,-1658]],
[-1122,[-1720,-1709,-1698,-1687,-1676,-1665,-1658]],[-1126,[-1716,-1705,-1694,-1683,-1672,-1661]],[-1130,[-1723,-1712,-1701,-1690,-1679,-1668,-1660]],[-1134,[-1719,-1708,-1697,-1686,-1675,-1664]],
[-1138,[-1726,-1715,-1704,-1693,-1682,-1671,-1661]],[-1142,[-1722,-1711,-1700,-1689,-1678,-1667]],[-1146,[-1729,-1718,-1707,-1696,-1685,-1674,-1663]],[-1150,[-1725,-1714,-1703,-1692,-1681,-1670]],
[-1154,[-1731,-1720,-1709,-1698,-1687,-1676,-1665]],[-1158,[-1728,-1717,-1706,-1695,-1684,-1673,-1664]],[-1162,[-1734,-1723,-1712,-1701,-1690,-1679,-1668]],[-1166,[-1730,-1719,-1708,-1697,-1686,-1675,-1666]],
[-1170,[-1736,-1725,-1714,-1703,-1692,-1681,-1670]],[-1174,[-1732,-1721,-1710,-1699,-1688,-1677,-1668]],[-1178,[-1739,-1728,-1717,-1706,-1695,-1684,-1673]],[-1182,[-1735,-1724,-1713,-1702,-1691,-1680,-1671]],
[-1186,[-1741,-1730,-1719,-1708,-1697,-1686,-1675]],[-1190,[-1737,-1726,-1715,-1704,-1693,-1682,-1673]],[-1194,[-1743,-1732,-1721,-1710,-1699,-1688,-1677]],[-1198,[-1739,-1728,-1717,-1706,-1695,-1684,-1676]],
[-1202,[-1745,-1734,-1723,-1712,-1701,-1690,-1679]],[-1206,[-1741,-1730,-1719,-1708,-1697,-1686,-1678]],[-1210,[-1747,-1736,-1725,-1714,-1703,-1692,-1681]],[-1214,[-1742,-1731,-1720,-1709,-1698,-1687]],
[-1218,[-1748,-1737,-1726,-1715,-1704,-1693,-1682]],[-1222,[-1744,-1733,-1722,-1711,-1700,-1689]],[-1226,[-1749,-1738,-1727,-1716,-1705,-1694,-1683]],[-1230,[-1745,-1734,-1723,-1712,-1701,-1690,-1681]],
[-1234,[-1750,-1739,-1728,-1717,-1706,-1695,-1684]],[-1238,[-1746,-1735,-1724,-1713,-1702,-1691,-1682]],[-1242,[-1751,-1740,-1729,-1718,-1707,-1696,-1685]],[-1246,[-1747,-1736,-1725,-1714,-1703,-1692,-1682]],
[-1250,[-1752,-1741,-1730,-1719,-1708,-1697,-1686,-1679]],[-1254,[-1747,-1736,-1725,-1714,-1703,-1692,-1681]],[-1258,[-1752,-1741,-1730,-1719,-1708,-1697,-1686,-1678]],[-1262,[-1747,-1736,-1725,-1714,-1703,-1692,-1681]],
[-1266,[-1752,-1741,-1730,-1719,-1708,-1697,-1686,-1678]],[-1270,[-1747,-1736,-1725,-1714,-1703,-1692,-1681]],[-1274,[-1752,-1741,-1730,-1719,-1708,-1697,-1686,-1679]],[-1278,[-1747,-1736,-1725,-1714,-1703,-1692,-1681]],
[-1282,[-1752,-1741,-1730,-1719,-1708,-1697,-1686,-1680]],[-1286,[-1747,-1736,-1725,-1714,-1703,-1692,-1682]],[-1290,[-1752,-1741,-1730,-1719,-1708,-1697,-1686,-1680]],[-1294,[-1747,-1736,-1725,-1714,-1703,-1692,-1682]],
[-1298,[-1751,-1740,-1729,-1718,-1707,-1696,-1685,-1679]],[-1302,[-1746,-1735,-1724,-1713,-1702,-1691,-1681]],[-1306,[-1750,-1739,-1728,-1717,-1706,-1695,-1684,-1678]],[-1310,[-1745,-1734,-1723,-1712,-1701,-1690,-1679]],
[-1314,[-1749,-1738,-1727,-1716,-1705,-1694,-1683,-1676]],[-1318,[-1743,-1732,-1721,-1710,-1699,-1688,-1677]],[-1322,[-1746,-1735,-1724,-1713,-1702,-1691,-1680,-1669]],[-1326,[-1739,-1728,-1717,-1706,-1695,-1684,-1673,-1663]],
[-1330,[-1742,-1731,-1720,-1709,-1698,-1687,-1676,-1665,-1658]],[-1334,[-1735,-1724,-1713,-1702,-1691,-1680,-1669,-1658,-1652]],[-1338,[-1737,-1726,-1715,-1704,-1693,-1682,-1671,-1660,-1649]],[-1342,[-1729,-1718,-1707,-1696,-1685,-1674,-1663,-1652,-1645]],
[-1346,[-1732,-1721,-1710,-1699,-1688,-1677,-1666,-1655,-1644]],[-1350,[-1725,-1714,-1703,-1692,-1681,-1670,-1659,-1648,-1638]],[-1354,[-1729,-1718,-1707,-1696,-1685,-1674,-1663,-1652,-1641,-1635]],[-1358,[-1722,-1711,-1700,-1689,-1678,-1667,-1656,-1645,-1634]],
[-1362,[-1726,-1715,-1704,-1693,-1682,-1671,-1660,-1649,-1638,-1631]],[-1366,[-1719,-1708,-1697,-1686,-1675,-1664,-1653,-1642,-1631]],[-1370,[-1721,-1710,-1699,-1688,-1677,-1666,-1655,-1644,-1633]],[-1374,[-1712,-1701,-1690,-1679,-1668,-1657,-1646,-1636]],
[-1378,[-1712,-1701,-1690,-1679,-1668,-1657,-1646,-1638]],[-1382,[-1699,-1688,-1677,-1666,-1655,-1646]]
];
const oldScatter=[[-1570,-850],[-1584,-935],[-1608,-948],[-1625,-970],[-1582,-975],[-1634,-984],[-1617,-987],[-1606,-1002],[-1627,-1013],[-1645,-1021],[-1633,-1006],[-1652,-1030],[-1629,-1036],[-1637,-1047],[-1700,-1060],[-1633,-1066],[-1708,-1098],[-1640,-1112],[-1725,-1140],[-1650,-1150],[-1742,-1181],[-1759,-1199],[-1762,-1236],[-1756,-1258],[-1758,-1272],[-1754,-1303],[-1757,-1330],[-1662,-1318],[-1595,-1335],[-1569,-1343],[-1612,-1363],[-1592,-1363],[-1620,-1372],[-1661,-1385],[-1641,-1385],[-1634,-1398],[-1690,-1384],[-1728,-1375],[-1652,-1183],[-1660,-1136],[-1645,-1092]];
// NGC 5053 mu_HST rows [(Emax+Emin)/2, [E_J ...]]
const hstRows=[
[-1196,[-1617,-1608,-1600]],[-1200,[-1631,-1622,-1613,-1604,-1595]],[-1204,[-1644,-1635,-1626,-1617,-1608,-1599,-1591]],
[-1208,[-1656,-1647,-1638,-1629,-1620,-1611,-1602,-1593]],[-1212,[-1667,-1658,-1649,-1640,-1631,-1622,-1613,-1604,-1597]],
[-1216,[-1677,-1668,-1659,-1650,-1641,-1632,-1623,-1614,-1604]],[-1220,[-1687,-1678,-1669,-1660,-1651,-1642,-1633,-1624,-1613]],
[-1224,[-1696,-1687,-1678,-1669,-1660,-1651,-1642,-1633,-1623]],[-1228,[-1704,-1695,-1686,-1677,-1668,-1659,-1650,-1641,-1634]],
[-1232,[-1711,-1702,-1693,-1684,-1675,-1666,-1657,-1646]],[-1236,[-1716,-1707,-1698,-1689,-1680,-1671,-1662,-1656]],
[-1240,[-1719,-1710,-1701,-1692,-1683,-1674,-1666]],[-1244,[-1716,-1707,-1698,-1689,-1680,-1675]],
[-1248,[-1708,-1699,-1690,-1683]],[-1252,[-1697,-1689]]
];

const W=610,H=571,L=84,R=609,T=5,B=529;
const x=d3.scaleLinear().domain([-2160,-435]).range([L,R]);
const y=d3.scaleLinear().domain([-1437,-558]).range([B,T]);
const flat=rows=>rows.flatMap(([yy,xs])=>xs.map(xx=>[xx,yy]));
const svg=d3.select("#c");
svg.append("rect").attr("width",W).attr("height",H).attr("fill","#fff");
const plot=svg.append("g");
function dots(data,color,r){
  plot.append("g").selectAll("circle").data(data).join("circle")
    .attr("cx",d=>x(d[0])).attr("cy",d=>y(d[1])).attr("r",r).attr("fill",color);
}
dots(sgrHalo.concat(flat(sgrBody),flat(sgrFringe)),"#808080",1.7);
dots(flat(oldRows).concat(oldScatter),"#008000",1.8);
dots(flat(hstRows),"#ff0000",1.8);

svg.append("text").attr("x",x(sgrLabel.x)).attr("y",y(sgrLabel.y))
  .attr("font-size",26).attr("fill","#000").text(sgrLabel.text);

const fmt=d3.format("d");
const gx=svg.append("g").attr("transform",`translate(0,${B})`)
  .call(d3.axisBottom(x).tickValues(xTicks).tickSize(5).tickPadding(5).tickFormat(fmt));
const gy=svg.append("g").attr("transform",`translate(${L},0)`)
  .call(d3.axisLeft(y).tickValues(yTicks).tickSize(5).tickPadding(5).tickFormat(fmt));
[gx,gy].forEach(g=>{
  g.select(".domain").remove();
  g.selectAll("text").attr("font-size",15).attr("fill","#000").attr("font-family","DejaVu Sans");
  g.selectAll("line").attr("stroke","#000").attr("stroke-width",1);
});
svg.append("rect").attr("x",L+0.5).attr("y",T+0.5).attr("width",R-L-1).attr("height",B-T)
  .attr("fill","none").attr("stroke","#000").attr("stroke-width",1);

const xl=svg.append("text").attr("x",(L+R)/2).attr("y",566).attr("text-anchor","middle").attr("font-size",15);
xl.append("tspan").attr("font-style","italic").text("E");
xl.append("tspan").attr("font-style","italic").attr("font-size",10.5).attr("dy",3).text("J");
const yl=svg.append("text").attr("transform",`translate(20,${(T+B)/2}) rotate(-90)`).attr("text-anchor","middle").attr("font-size",15);
yl.append("tspan").text("(");
yl.append("tspan").attr("font-style","italic").text("E");
yl.append("tspan").attr("font-style","italic").attr("font-size",10.5).attr("dy",3).text("max");
yl.append("tspan").attr("dy",-3).text(" + ");
yl.append("tspan").attr("font-style","italic").text("E");
yl.append("tspan").attr("font-style","italic").attr("font-size",10.5).attr("dy",3).text("min");
yl.append("tspan").attr("dy",-3).text(")/2");

const lg=svg.append("g");
lg.append("rect").attr("x",420.5).attr("y",470.5).attr("width",186).attr("height",52).attr("rx",4)
  .attr("fill","#fff").attr("fill-opacity",0.8).attr("stroke","#cccccc");
const lcols=["#008000","#ff0000"];
seriesNames.forEach((n,i)=>{
  const cy=484+i*23;
  [430,452].forEach(cx=>lg.append("circle").attr("cx",cx).attr("cy",cy).attr("r",1.5).attr("fill",lcols[i]));
  const t=lg.append("text").attr("x",471).attr("y",cy+5.5).attr("font-size",15);
  t.append("tspan").text(n);
  t.append("tspan").attr("font-style","italic").text("μ");
  t.append("tspan").attr("font-style","italic").attr("font-size",10.5).attr("dy",3).text(seriesSubs[i]);
});
</script></body></html>
